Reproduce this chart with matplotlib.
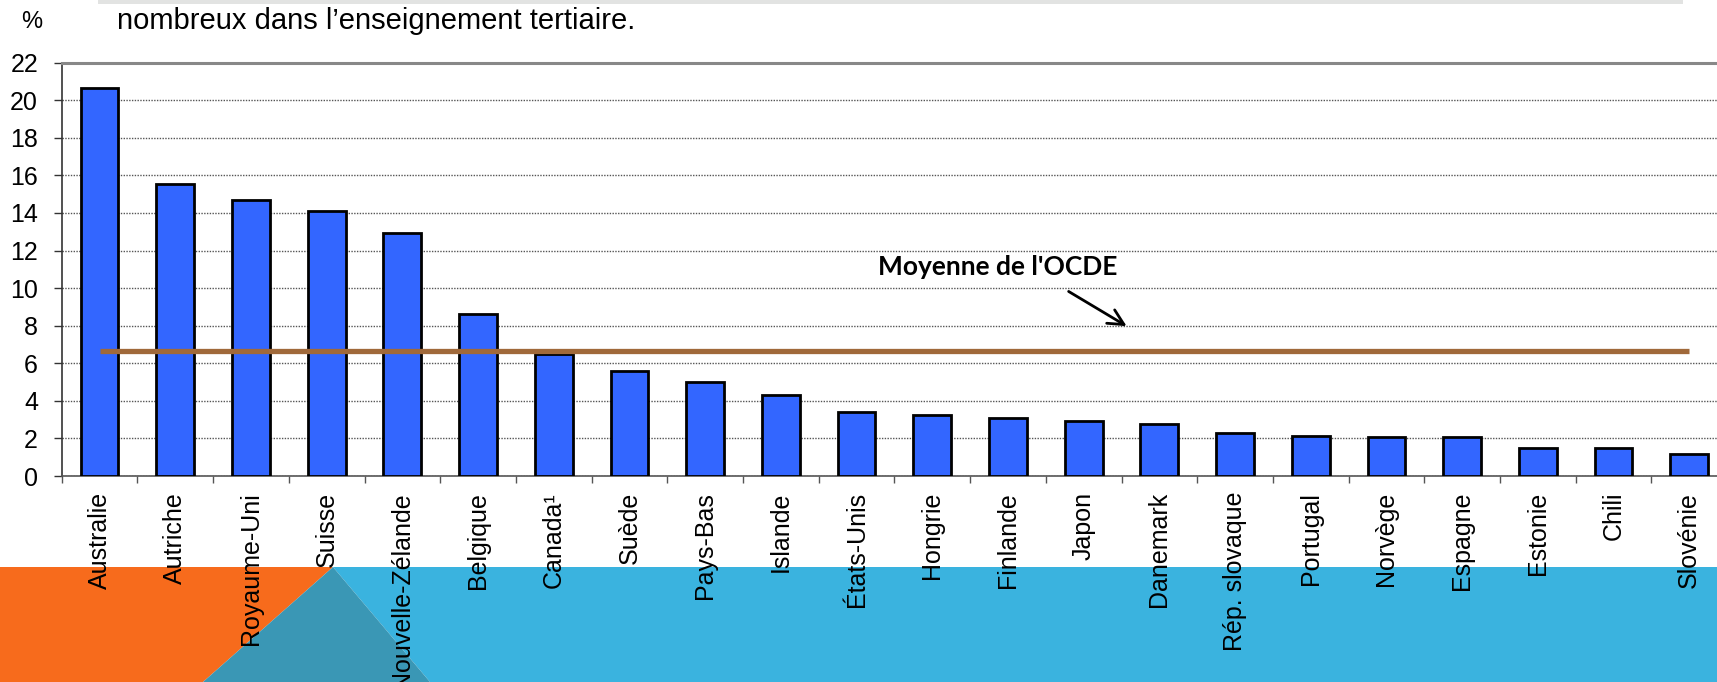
import numpy as np
import matplotlib.pyplot as plt
from matplotlib.patches import Polygon

# données
pays = ['Australie', 'Autriche', 'Royaume-Uni', 'Suisse', 'Nouvelle-Zélande',
        'Belgique', 'Canada¹', 'Suède', 'Pays-Bas', 'Islande', 'États-Unis',
        'Hongrie', 'Finlande', 'Japon', 'Danemark', 'Rép. slovaque', 'Portugal',
        'Norvège', 'Espagne', 'Estonie', 'Chili', 'Slovénie']
valeurs = [20.63, 15.52, 14.69, 14.12, 12.93, 8.6, 6.51, 5.57, 4.98, 4.31, 3.42,
           3.25, 3.10, 2.94, 2.78, 2.27, 2.14, 2.08, 2.06, 1.51, 1.51, 1.17]
moyenne_ocde = 6.67
y_ticks = list(range(0, 23, 2))

W, H = 1717, 682

plt.rcParams['font.family'] = ['Liberation Sans', 'DejaVu Sans']

fig = plt.figure(figsize=(W / 100, H / 100), dpi=100)


def fx(px):
    return px / W


def fy(py):
    return 1 - py / H


# décor en bas de la diapo
deco = [
    ('#F76B1C', [(0, 567), (333, 567), (203, 682), (0, 682)]),
    ('#3AB3DF', [(333, 567), (W, 567), (W, 682), (430, 682)]),
    ('#3A97B5', [(333, 567), (203, 682), (430, 682)]),
]
for col, pts in deco:
    fig.add_artist(Polygon([(fx(a), fy(b)) for a, b in pts], closed=True,
                           facecolor=col, edgecolor='none',
                           transform=fig.transFigure, zorder=-1))
# bandeau gris en haut
fig.add_artist(plt.Rectangle((fx(98), fy(4)), fx(1683) - fx(98), 4 / H,
                             facecolor='#E2E3E2', edgecolor='none',
                             transform=fig.transFigure, zorder=-1))

fig.text(fx(32), fy(22), '%', ha='center', va='center', fontsize=17)
fig.text(fx(117), fy(21), 'nombreux dans l’enseignement tertiaire.',
         ha='left', va='center', fontsize=21)

ax = fig.add_axes([fx(61.7), fy(476), 1665.4 / W, 413.3 / H])

x = np.arange(len(pays))
ax.bar(x, valeurs, width=0.5, color='#3366FF', edgecolor='black',
       linewidth=2, zorder=3)
ax.plot([0, len(pays) - 1], [moyenne_ocde, moyenne_ocde], color='#A0693A',
        lw=3.8, zorder=4, solid_capstyle='butt')

ax.annotate('', xy=(13.6, 7.9), xytext=(12.77, 9.9),
            arrowprops=dict(arrowstyle='->', color='black', lw=2,
                            mutation_scale=28), zorder=5)
ax.text(11.86, 11.14, "Moyenne de l'OCDE", ha='center', va='center',
        fontsize=19, fontweight='bold', family=['Lato', 'DejaVu Sans'])

ax.set_xlim(-0.5, len(pays) - 0.5)
ax.set_ylim(0, 22)
ax.set_yticks(y_ticks)
ax.set_yticklabels([str(v) for v in y_ticks], fontsize=18)
ax.set_xticks(x)
ax.set_xticklabels(pays, rotation=90, fontsize=18)
ax.set_xticks(np.arange(-0.5, len(pays)), minor=True)
ax.tick_params(axis='x', which='major', length=0, pad=11.5)
ax.tick_params(axis='x', which='minor', length=5, width=1, color='#555555')
ax.tick_params(axis='y', length=6, width=1, color='#333333', pad=11)

ax.yaxis.grid(True, linestyle=(0, (1, 1)), color='#555555', lw=1)
ax.set_axisbelow(True)

ax.spines['top'].set_color('#888888')
ax.spines['top'].set_linewidth(2.2)
ax.spines['left'].set_color('#333333')
ax.spines['left'].set_linewidth(1.2)
ax.spines['bottom'].set_color('#555555')
ax.spines['bottom'].set_linewidth(1.2)
ax.spines['right'].set_visible(False)

fig.savefig('out.png', dpi=100)
